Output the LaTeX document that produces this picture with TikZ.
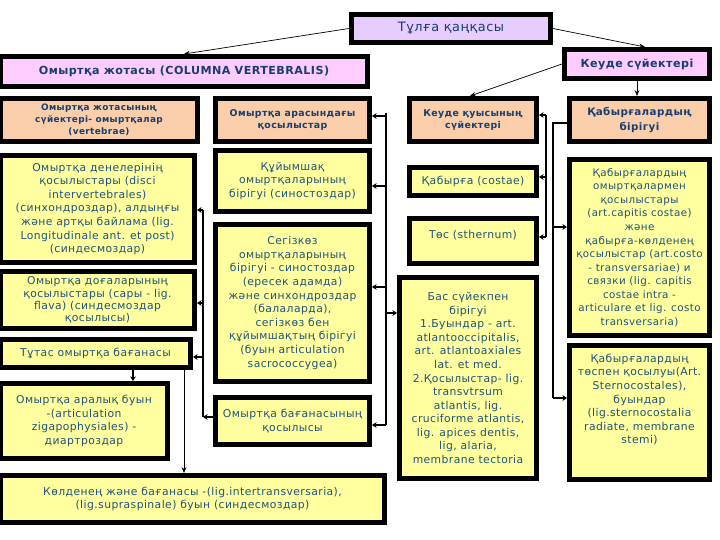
\documentclass[tikz,border=0pt]{standalone}
\usepackage{fontspec}
\setmainfont{DejaVu Sans}
\newfontfamily\bodyfont[LetterSpace=4]{DejaVu Sans}
\newfontfamily\hdrfont[LetterSpace=4]{DejaVu Sans}
\usetikzlibrary{arrows.meta,calc}

\definecolor{lav}{RGB}{230,204,255}
\definecolor{pnk}{RGB}{255,204,255}
\definecolor{pch}{RGB}{250,206,170}
\definecolor{yel}{RGB}{255,255,160}
\definecolor{ink}{RGB}{28,84,120}
\definecolor{hink}{RGB}{22,62,110}

\begin{document}
\begin{tikzpicture}[x=0.03cm, y=-0.03cm,
    bx/.style 2 args={draw, line width=4.2pt, align=center, inner sep=1pt,
        minimum width=#1*0.03cm-4.2pt, minimum height=#2*0.03cm-4.2pt},
    ttl/.style={fill=lav, font=\bodyfont\fontsize{11}{13}\selectfont, text=hink},
    grp/.style={fill=pnk, font=\hdrfont\bfseries\fontsize{9.5}{11}\selectfont, text=hink},
    hdr/.style={fill=pch, font=\hdrfont\bfseries\fontsize{8}{10.5}\selectfont, text=hink},
    leaf/.style={fill=yel, font=\bodyfont\fontsize{9.2}{11.6}\selectfont, text=ink},
    thinarr/.style={-{Stealth[length=5pt,width=4pt]}, line width=0.6pt},
    bus/.style={line width=2.4pt},
    busarr/.style={-{Stealth[length=4pt,width=5pt]}, line width=2.4pt}
]
\useasboundingbox (0,0) rectangle (720,540);

% top levels
\node[bx={204}{33}, ttl] (tulga) at (451,28.5) {Тұлға қаңқасы};
\node[bx={372}{35}, grp] (columna) at (184,71.5) {Омыртқа жотасы (COLUMNA VERTEBRALIS)};
\node[bx={150}{34}, grp] (keude) at (637,64) {Кеуде сүйектері};

% column headers
\node[bx={202}{48}, hdr, font=\hdrfont\bfseries\fontsize{7.6}{10}\selectfont] (hvert) at (99,120) {Омыртқа жотасының\\сүйектері- омыртқалар\\(vertebrae)};
\node[bx={159}{48}, hdr] (hjoin) at (292.5,120) {Омыртқа арасындағы\\қосылыстар};
\node[bx={132}{48}, hdr] (hchest) at (473,120) {Кеуде қуысының\\сүйектері};
\node[bx={145}{48}, hdr, font=\hdrfont\bfseries\fontsize{8.8}{12}\selectfont] (hrib) at (639.5,120) {Қабырғалардың\\бірігуі};

% column 1
\node[bx={199}{112}, leaf] (disci) at (97.5,209) {Омыртқа денелерінің\\қосылыстары (disci\\intervertebrales)\\(синхондроздар), алдыңғы\\және артқы байлама (lig.\\Longitudinale ant. et post)\\(синдесмоздар)};
\node[bx={199}{62}, leaf, inner sep=0pt, font=\bodyfont\fontsize{9.2}{10.6}\selectfont] (flava) at (97.5,300) {Омыртқа доғаларының\\қосылыстары (сары - lig.\\flava) (синдесмоздар\\қосылысы)};
\node[bx={195}{33}, leaf] (tutas) at (95.5,353.5) {Тұтас омыртқа бағанасы};
\node[bx={172}{80}, leaf] (aralyk) at (84,421) {Омыртқа аралық буын\\-(articulation\\zigapophysiales) -\\диартроздар};
\node[bx={389}{52}, leaf] (kolden) at (192.5,499) {Көлденең және бағанасы -(lig.intertransversaria),\\(lig.supraspinale) буын (синдесмоздар)};

% column 2
\node[bx={159}{66}, leaf] (kuiym) at (292.5,181) {Құйымшақ\\омыртқаларының\\бірігуі (синостоздар)};
\node[bx={159}{162}, leaf] (segiz) at (292.5,303) {Сегізкөз\\омыртқаларының\\бірігуі - синостоздар\\(ересек адамда)\\және синхондроздар\\(балаларда),\\сегізкөз бен\\құйымшақтың бірігуі\\(буын articulation\\sacrococcygea)};
\node[bx={159}{52}, leaf] (bagan) at (292.5,421) {Омыртқа бағанасының\\қосылысы};

% column 3
\node[bx={132}{33}, leaf] (costae) at (473,181.5) {Қабырға (costae)};
\node[bx={132}{50}, leaf] (sternum) at (473,241) {Төс (sthernum)\\\mbox{}};
\node[bx={142}{206}, leaf] (bas) at (468,378) {Бас сүйекпен\\бірігуі\\1.Буындар - art.\\atlantooccipitalis,\\art. atlantoaxiales\\lat. et med.\\2.Қосылыстар- lig.\\transvtrsum\\atlantis, lig.\\cruciforme atlantis,\\lig. apices dentis,\\lig, alaria,\\membrane tectoria};

% column 4
\node[bx={145}{181}, leaf, font=\bodyfont\fontsize{8.8}{11.6}\selectfont] (costvert) at (639.5,247.5) {Қабырғалардың\\омыртқалармен\\қосылыстары\\(art.capitis costae)\\және\\қабырға-көлденең\\қосылыстар (art.costo\\- transversariae) и\\связки (lig. capitis\\costae intra -\\articulare et lig. costo\\transversaria)};
\node[bx={145}{139}, leaf] (coststern) at (639.5,412.5) {Қабырғалардың\\төспен қосылуы(Art.\\Sternocostales),\\буындар\\(lig.sternocostalia\\radiate, membrane\\stemi)\\\mbox{}\\\mbox{}};

% upper links
\draw[thinarr] (tulga.west) -- (columna.north);
\draw[thinarr] (tulga.east) -- ($(keude.north)+(8,0)$);
\draw[thinarr] (keude.west) -- ($(hchest.north)+(-3,0)$);
\draw[thinarr] (keude.south) -- (keude.south |- hrib.north);

% column 4 bus
\coordinate (b4t) at (553,123);
\coordinate (b4a) at (553,227);
\coordinate (b4b) at (553,398);
\draw[bus] (b4t -| hrib.west) -- (b4t) -- (b4b);
\draw[busarr] (b4a) -- (b4a -| costvert.west);
\draw[busarr] (b4b) -- (b4b -| coststern.west);

% column 3 bus
\coordinate (b3a) at (546,115);
\coordinate (b3b) at (546,177);
\coordinate (b3c) at (546,237);
\draw[bus] (b3a) -- (b3c);
\draw[busarr] (b3a) -- (b3a -| hchest.east);
\draw[busarr] (b3b) -- (b3b -| costae.east);
\draw[busarr] (b3c) -- (b3c -| sternum.east);

% column 2 bus
\coordinate (b2a) at (386,116);
\coordinate (b2b) at (386,186);
\coordinate (b2c) at (386,287);
\coordinate (b2d) at (386,313);
\coordinate (b2e) at (386,425);
\draw[bus] ($(b2a)+(0,-3)$) -- (b2e);
\draw[busarr] (b2a) -- (b2a -| hjoin.east);
\draw[busarr] (b2b) -- (b2b -| kuiym.east);
\draw[busarr] (b2c) -- (b2c -| segiz.east);
\draw[busarr] (b2d) -- (b2d -| bas.west);
\draw[busarr] (b2e) -- (b2e -| bagan.east);

% column 1 bus
\coordinate (b1a) at (203,210);
\coordinate (b1b) at (203,303);
\coordinate (b1c) at (203,357);
\coordinate (b1d) at (203,417);
\draw[bus] (b1a) -- (b1d);
\draw[busarr] (b1a) -- (b1a -| disci.east);
\draw[busarr] (b1b) -- (b1b -| flava.east);
\draw[busarr] (b1c) -- (b1c -| tutas.east);
\draw[busarr] (b1d -| bagan.west) -- (b1d);

% below "Тұтас"
\draw[busarr, line width=1.2pt] (tutas.south -| 133,0) -- (aralyk.north -| 133,0);
\draw[thinarr] (tutas.south -| 184,0) -- (kolden.north -| 184,0);
\end{tikzpicture}
\end{document}
